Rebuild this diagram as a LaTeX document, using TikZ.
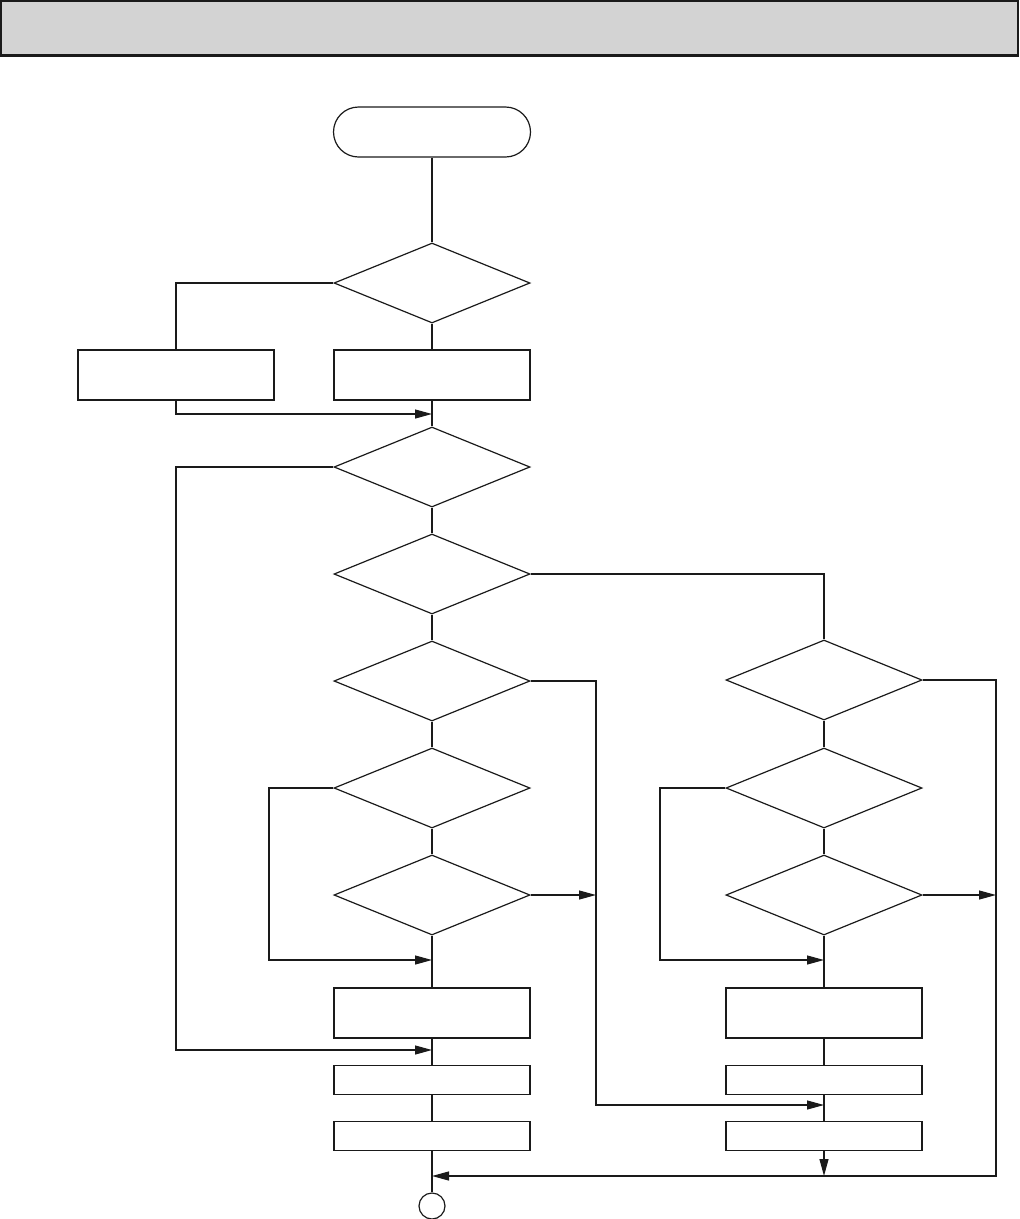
\documentclass[tikz,border=0pt]{standalone}
\usetikzlibrary{shapes.geometric,arrows.meta}
\definecolor{HeadGrey}{HTML}{D3D3D3}
\definecolor{LineBlack}{HTML}{1A1A1A}

\tikzset{
  decision/.style={diamond, draw=LineBlack, line width=1.2pt, minimum width=196pt, minimum height=80pt, inner sep=0pt},
  process/.style={rectangle, draw=LineBlack, line width=1.3pt, minimum width=196pt, minimum height=50pt, inner sep=0pt},
  thinbox/.style={process, minimum height=29pt},
  terminal/.style={rectangle, rounded corners=25pt, draw=LineBlack, line width=1.2pt, minimum width=197pt, minimum height=50pt},
  connector/.style={circle, draw=LineBlack, line width=1.2pt, minimum size=26pt, inner sep=0pt},
  link/.style={draw=LineBlack, line width=1.2pt},
  flow/.style={link, -{Triangle[length=17pt,width=9pt]}},
  trunk/.style={link, line width=2.4pt},
}

\begin{document}
\begin{tikzpicture}[x=1pt,y=-1pt]
    \useasboundingbox (0,0) rectangle (1020,1219);

    % header bar
    \draw[fill=HeadGrey, draw=LineBlack, line width=1.2pt] (1,1) rectangle (1018,55);
    \draw[LineBlack, line width=2.6pt] (0,56) -- (1019,56);

    \node[terminal] (start) at (432,132) {};
    \node[decision] (d1) at (432,283) {};
    \node[process] (boxL) at (176,375) {};
    \node[process] (boxA) at (432,375) {};
    \node[decision] (d2) at (432,467) {};
    \node[decision] (d3) at (432,574) {};
    \node[decision] (d4) at (432,681) {};
    \node[decision] (d5) at (432,788) {};
    \node[decision] (d6) at (432,895) {};
    \node[process] (b1) at (432,1013) {};
    \node[thinbox] (b2) at (432,1080) {};
    \node[thinbox] (b3) at (432,1136) {};
    \node[connector] (endc) at (432,1206) {};

    \node[decision] (dr1) at (824,680) {};
    \node[decision] (dr2) at (824,788) {};
    \node[decision] (dr3) at (824,895) {};
    \node[process] (rb1) at (824,1013) {};
    \node[thinbox] (rb2) at (824,1080) {};
    \node[thinbox] (rb3) at (824,1136) {};

    \coordinate (j1) at (432,414);
    \coordinate (k2) at (176,1050);
    \coordinate (j2) at (432,1050);
    \coordinate (k5) at (269,960);
    \coordinate (j5) at (432,960);
    \coordinate (j6) at (596,895);
    \coordinate (k4) at (596,1105);
    \coordinate (j4) at (824,1105);
    \coordinate (kr2) at (660,960);
    \coordinate (jr2) at (824,960);
    \coordinate (jr3) at (996,895);
    \coordinate (kr1) at (996,1176);
    \coordinate (jend) at (432,1176);
    \coordinate (jr4) at (824,1176);

    % main column
    \draw[trunk] (start.south) -- (d1.north);
    \draw[trunk] (d1.south) -- (boxA.north);
    \draw[trunk] (boxA.south) -- (d2.north);
    \draw[trunk] (d2.south) -- (d3.north);
    \draw[trunk] (d3.south) -- (d4.north);
    \draw[trunk] (d4.south) -- (d5.north);
    \draw[trunk] (d5.south) -- (d6.north);
    \draw[trunk] (d6.south) -- (b1.north);
    \draw[trunk] (b1.south) -- (b2.north);
    \draw[trunk] (b2.south) -- (b3.north);
    \draw[trunk] (b3.south) -- (endc.north);

    \draw[link] (d1.west) -| (boxL.north);
    \draw[flow] (boxL.south) |- (j1);
    \draw[flow] (d2.west) -| (k2) -- (j2);
    \draw[link] (d3.east) -| (dr1.north);
    \draw[flow] (d4.east) -| (k4) -- (j4);
    \draw[flow] (d5.west) -| (k5) -- (j5);
    \draw[flow] (d6.east) -- (j6);

    % right column
    \draw[link] (dr1.south) -- (dr2.north);
    \draw[link] (dr2.south) -- (dr3.north);
    \draw[link] (dr3.south) -- (rb1.north);
    \draw[link] (rb1.south) -- (rb2.north);
    \draw[link] (rb2.south) -- (rb3.north);
    \draw[flow] (rb3.south) -- (jr4);
    \draw[flow] (dr2.west) -| (kr2) -- (jr2);
    \draw[flow] (dr3.east) -- (jr3);
    \draw[flow] (dr1.east) -| (kr1) -- (jend);
\end{tikzpicture}
\end{document}
